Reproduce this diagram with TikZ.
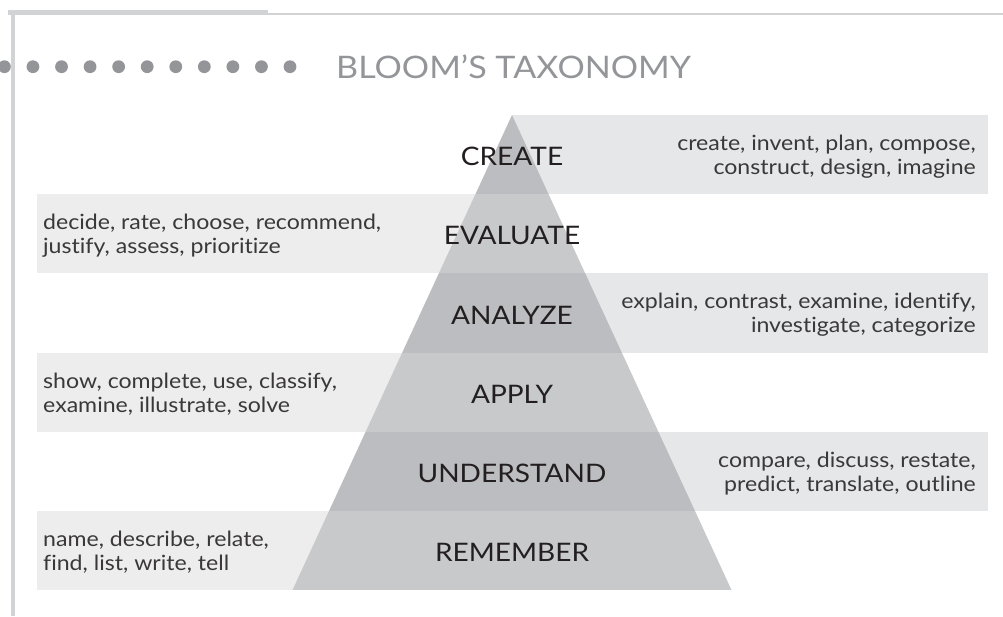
\documentclass[tikz,border=0pt]{standalone}
\usepackage{fontspec}
\setmainfont{Lato}[Ligatures=NoCommon, FakeStretch=1.1]
\usepackage{tikz}
\usepackage{xcolor}

\definecolor{framegray}{HTML}{D1D3D4}
\definecolor{dotgray}{HTML}{939598}
\definecolor{bandleft}{HTML}{EDEDED}
\definecolor{bandright}{HTML}{E6E7E8}
\definecolor{tierdark}{HTML}{BCBDC0}
\definecolor{tierlight}{HTML}{C8C9CB}
\definecolor{inkdark}{HTML}{231F20}
\definecolor{inkverb}{HTML}{3A3839}

\begin{document}
\begin{tikzpicture}[x=1pt, y=-1pt]
    \tikzstyle{tierlabel}=[inner sep=0pt, text=inkdark, font=\fontsize{25.5}{28}\selectfont]
    \tikzstyle{verbleft}=[anchor=west, inner sep=0pt, align=left, text=inkverb, font=\fontsize{21}{24}\selectfont]
    \tikzstyle{verbright}=[anchor=east, inner sep=0pt, align=right, text=inkverb, font=\fontsize{21}{24}\selectfont]

    \useasboundingbox (0,0) rectangle (1003,616);

    % frame
    \fill[framegray] (8,10) rectangle (268,14.7);
    \fill[framegray] (268,12.7) rectangle (1003,14.7);
    \fill[framegray] (10.5,10) rectangle (14.5,616);

    % header
    \begin{scope}
        \clip (0,0) rectangle (1003,616);
        \foreach \k in {0,...,10}
            \fill[dotgray] (4.4+28.56*\k, 66.7) circle (6.4pt);
    \end{scope}
    \node[anchor=west, inner sep=0pt, text=dotgray, font=\fontsize{31}{34}\selectfont] (title) at (336,66.5) {BLOOM’S TAXONOMY};

    % bands
    \fill[bandright] (512,115) rectangle (988,194.2);
    \fill[bandleft]  (37,194.2) rectangle (512,273.3);
    \fill[bandright] (512,273.3) rectangle (988,352.5);
    \fill[bandleft]  (37,352.5) rectangle (512,431.7);
    \fill[bandright] (512,431.7) rectangle (988,510.8);
    \fill[bandleft]  (37,510.8) rectangle (512,590);

    % pyramid
    \begin{scope}
        \clip (512,115) -- (731.5,590) -- (292.5,590) -- cycle;
        \foreach \i in {0,2,4}
            \fill[tierdark] (280,115+79.17*\i) rectangle (745,115+79.17*\i+79.17);
        \foreach \i in {1,3,5}
            \fill[tierlight] (280,115+79.17*\i) rectangle (745,115+79.17*\i+79.17);
    \end{scope}

    \node[tierlabel] (create)     at (512,156.5) {CREATE};
    \node[tierlabel] (evaluate)   at (512,235.7) {EVALUATE};
    \node[tierlabel] (analyze)    at (512,314.9) {ANALYZE};
    \node[tierlabel] (apply)      at (512,394.1) {APPLY};
    \node[tierlabel] (understand) at (512,473.3) {UNDERSTAND};
    \node[tierlabel] (remember)   at (512,552.5) {REMEMBER};

    \node[verbright] (createverbs)     at (976,156.6) {create, invent, plan, compose,\\construct, design, imagine};
    \node[verbleft]  (evaluateverbs)   at (43,235.7)  {decide, rate, choose, recommend,\\justify, assess, prioritize};
    \node[verbright] (analyzeverbs)    at (976,314.9) {explain, contrast, examine, identify,\\investigate, categorize};
    \node[verbleft]  (applyverbs)      at (43,394.1)  {show, complete, use, classify,\\examine, illustrate, solve};
    \node[verbright] (understandverbs) at (976,473.3) {compare, discuss, restate,\\predict, translate, outline};
    \node[verbleft]  (rememberverbs)   at (43,552.4)  {name, describe, relate,\\find, list, write, tell};
\end{tikzpicture}
\end{document}
